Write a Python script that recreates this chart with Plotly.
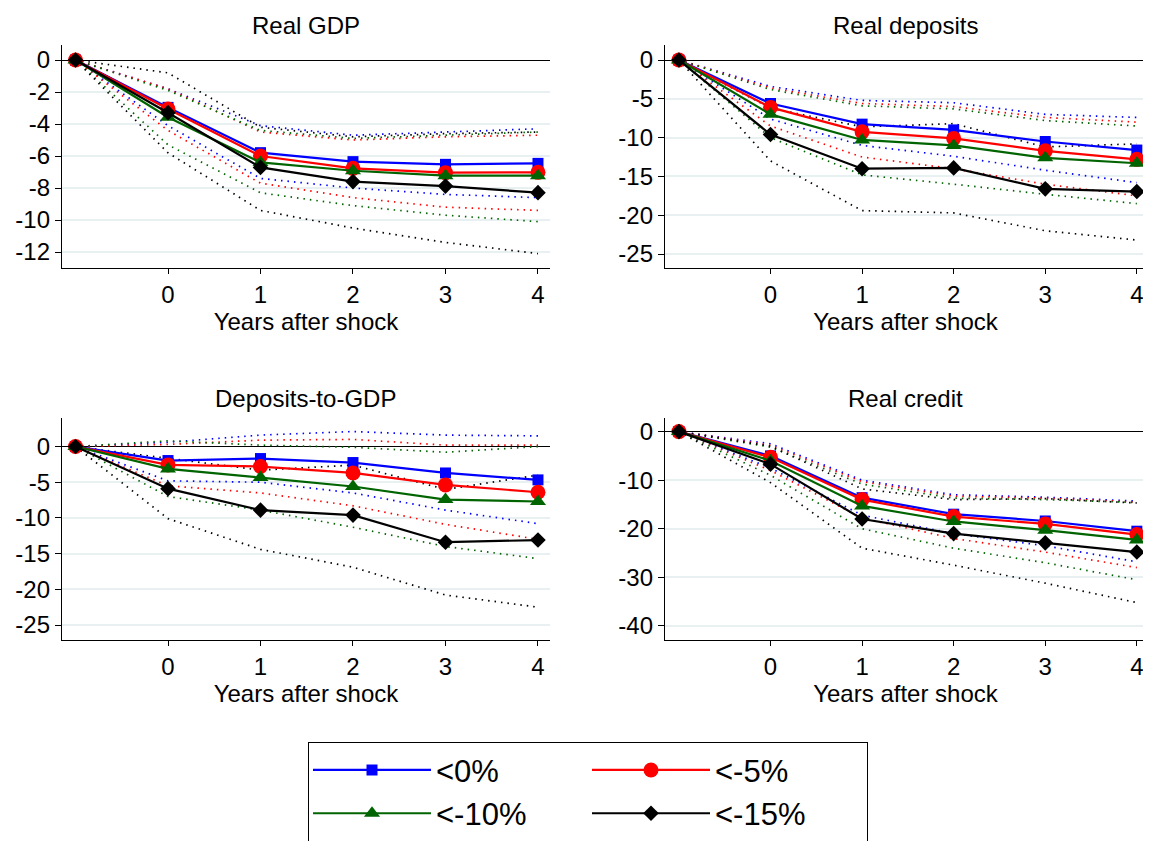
import plotly.graph_objects as go

# x positions: -1 is the pre-shock base year (unlabelled)
years = [-1, 0, 1, 2, 3, 4]
x_ticks = [0, 1, 2, 3, 4]

groups = ["<0%", "<-5%", "<-10%", "<-15%"]
colors = ["#0000ff", "#ff0000", "#006400", "#000000"]
symbols = ["square", "circle", "triangle-up", "diamond"]
marker_sizes = [11, 15, 14, 12]
legend_cols = ["c1", "c2", "c1", "c2"]

titles = ["Real GDP", "Real deposits", "Deposits-to-GDP", "Real credit"]

# Real GDP
gdp_point = [
    [0, -2.96, -5.79, -6.35, -6.52, -6.46],
    [0, -3.06, -6.00, -6.77, -7.04, -7.02],
    [0, -3.58, -6.40, -6.92, -7.23, -7.23],
    [0, -3.29, -6.71, -7.60, -7.88, -8.29],
]
gdp_upper = [
    [0, -1.8, -4.1, -4.7, -4.5, -4.3],
    [0, -1.8, -4.5, -5.0, -4.8, -4.7],
    [0, -1.9, -4.4, -4.9, -4.7, -4.5],
    [0, -0.8, -4.2, -4.8, -4.6, -4.5],
]
gdp_lower = [
    [0, -4.1, -7.4, -8.0, -8.4, -8.6],
    [0, -4.4, -7.7, -8.6, -9.2, -9.4],
    [0, -5.3, -8.3, -9.1, -9.7, -10.1],
    [0, -5.8, -9.4, -10.5, -11.4, -12.1],
]

# Real deposits
dep_point = [
    [0, -5.6, -8.26, -9.0, -10.5, -11.6],
    [0, -6.1, -9.25, -10.1, -11.7, -12.8],
    [0, -7.0, -10.3, -11.0, -12.6, -13.3],
    [0, -9.6, -14.0, -13.9, -16.6, -16.95],
]
dep_upper = [
    [0, -3.4, -5.2, -5.5, -7.0, -7.4],
    [0, -3.6, -5.6, -6.0, -7.4, -8.0],
    [0, -3.8, -5.9, -6.3, -7.8, -8.5],
    [0, -6.2, -8.6, -8.2, -11.2, -10.8],
]
dep_lower = [
    [0, -7.6, -11.0, -12.4, -14.2, -15.8],
    [0, -8.5, -12.5, -14.0, -16.0, -17.5],
    [0, -10.0, -14.8, -16.0, -17.3, -18.5],
    [0, -13.0, -19.4, -19.7, -22.0, -23.2],
]

# Deposits-to-GDP
dtg_point = [
    [0, -1.96, -1.68, -2.24, -3.7, -4.67],
    [0, -2.57, -2.8, -3.7, -5.37, -6.4],
    [0, -3.13, -4.35, -5.6, -7.43, -7.7],
    [0, -5.9, -8.9, -9.6, -13.4, -13.1],
]
dtg_upper = [
    [0, 0.6, 1.6, 2.1, 1.6, 1.5],
    [0, 0.3, 0.9, 1.0, 0.2, 0.2],
    [0, 0.8, 0.2, -0.1, -0.8, 0.0],
    [0, -1.7, -3.3, -2.6, -6.0, -4.0],
]
dtg_lower = [
    [0, -4.8, -5.0, -6.5, -8.9, -10.8],
    [0, -5.5, -6.5, -8.3, -10.9, -13.0],
    [0, -7.0, -8.9, -11.3, -14.0, -15.7],
    [0, -10.1, -14.4, -16.9, -20.8, -22.5],
]

# Real credit
cred_point = [
    [0, -5.0, -13.6, -17.0, -18.4, -20.5],
    [0, -5.3, -14.0, -17.5, -19.0, -21.2],
    [0, -6.0, -15.3, -18.5, -20.3, -22.3],
    [0, -6.7, -18.0, -21.0, -22.9, -24.8],
]
cred_upper = [
    [0, -2.5, -10.0, -13.0, -13.5, -14.3],
    [0, -2.8, -10.3, -13.3, -13.7, -14.5],
    [0, -3.2, -10.8, -13.7, -14.0, -14.6],
    [0, -3.0, -11.8, -14.0, -13.8, -14.7],
]
cred_lower = [
    [0, -7.5, -17.2, -21.0, -23.5, -26.8],
    [0, -8.0, -17.8, -22.0, -24.8, -28.0],
    [0, -9.0, -20.0, -24.0, -27.0, -30.5],
    [0, -10.5, -24.0, -27.5, -31.2, -35.2],
]

y_tickvals = [
    [0, -2, -4, -6, -8, -10, -12],
    [0, -5, -10, -15, -20, -25],
    [0, -5, -10, -15, -20, -25],
    [0, -10, -20, -30, -40],
]
y_ticktext = [
    ["0", "-2", "-4", "-6", "-8", "-10", "-12"],
    ["0", "-5", "-10", "-15", "-20", "-25"],
    ["0", "-5", "-10", "-15", "-20", "-25"],
    ["0", "-10", "-20", "-30", "-40"],
]
y_ranges = [[-13.0, 0.94], [-26.8, 1.94], [-27.1, 4.0], [-42.9, 2.8]]

panels = [
    (gdp_point, gdp_upper, gdp_lower),
    (dep_point, dep_upper, dep_lower),
    (dtg_point, dtg_upper, dtg_lower),
    (cred_point, cred_upper, cred_lower),
]

W, H = 1151, 841
OFF = 8  # the page puts the plot 8px in from the top-left corner
# pixel boxes of each panel on the page: left, right, top, bottom
boxes = [(62, 550, 45, 268), (665, 1146, 45, 268),
         (62, 550, 418, 640), (665, 1146, 418, 640)]
x_ranges = [[-1.146, 4.13], [-1.152, 4.1], [-1.146, 4.13], [-1.152, 4.1]]

FONT = "Liberation Sans, Arial, sans-serif"

fig = go.Figure()

for p, (point, upper, lower) in enumerate(panels):
    xa = "x" if p == 0 else f"x{p + 1}"
    ya = "y" if p == 0 else f"y{p + 1}"
    # confidence bands first (dotted)
    for g in range(len(groups)):
        for band in (upper[g], lower[g]):
            fig.add_trace(go.Scatter(
                x=years, y=band, xaxis=xa, yaxis=ya, mode="lines",
                line=dict(color=colors[g], width=1.7, dash="1.5px,5px"),
                showlegend=False, hoverinfo="skip"))
    for g in range(len(groups)):
        fig.add_trace(go.Scatter(
            x=years, y=point[g], xaxis=xa, yaxis=ya, mode="lines+markers",
            name=groups[g], legendgroup=legend_cols[g], showlegend=(p == 0),
            line=dict(color=colors[g], width=2.2),
            marker=dict(symbol=symbols[g], size=marker_sizes[g], color=colors[g],
                        line=dict(width=0))))

layout = dict(
    template="none",
    width=W, height=H, margin=dict(l=0, r=0, t=0, b=0, autoexpand=False),
    paper_bgcolor="white", plot_bgcolor="white",
    font=dict(family=FONT, size=24, color="black"),
    showlegend=True,
    legend=dict(
        orientation="h", x=(308 - OFF) / W, xanchor="left",
        y=1 - (742 - OFF) / H, yanchor="top",
        bordercolor="black", borderwidth=1.3, bgcolor="white",
        font=dict(size=31), entrywidth=146, entrywidthmode="pixels",
        itemwidth=118, tracegroupgap=0,
    ),
    annotations=[],
)

for p in range(4):
    l, r, t, b = (v - OFF for v in boxes[p])
    xk = "xaxis" if p == 0 else f"xaxis{p + 1}"
    yk = "yaxis" if p == 0 else f"yaxis{p + 1}"
    xa = "x" if p == 0 else f"x{p + 1}"
    ya = "y" if p == 0 else f"y{p + 1}"
    layout[xk] = dict(
        domain=[l / W, r / W], range=x_ranges[p], anchor=ya,
        tickvals=x_ticks, ticks="outside", ticklen=5, tickcolor="black",
        showline=True, linecolor="black", linewidth=1.3, showgrid=False,
        zeroline=False, tickfont=dict(size=24), ticklabeloverflow="allow",
        automargin=False,
        title=dict(text="Years after shock", font=dict(size=24), standoff=0),
    )
    layout[yk] = dict(
        domain=[1 - b / H, 1 - t / H], range=y_ranges[p], anchor=xa,
        tickvals=y_tickvals[p], ticktext=y_ticktext[p], ticks="outside",
        ticklen=6, tickcolor="black", showline=True, linecolor="black",
        linewidth=1.3, showgrid=True, gridcolor="#e8f0f2", gridwidth=1.5,
        zeroline=True, zerolinecolor="black", zerolinewidth=1.3,
        tickfont=dict(size=24), automargin=False,
    )
    layout["annotations"].append(dict(
        text=titles[p], xref="paper", yref="paper",
        x=(l + r) / 2 / W, y=1 - (t - 20) / H, xanchor="center", yanchor="middle",
        showarrow=False, font=dict(size=24)))

fig.update_layout(**layout)
fig.write_html("out.html")
